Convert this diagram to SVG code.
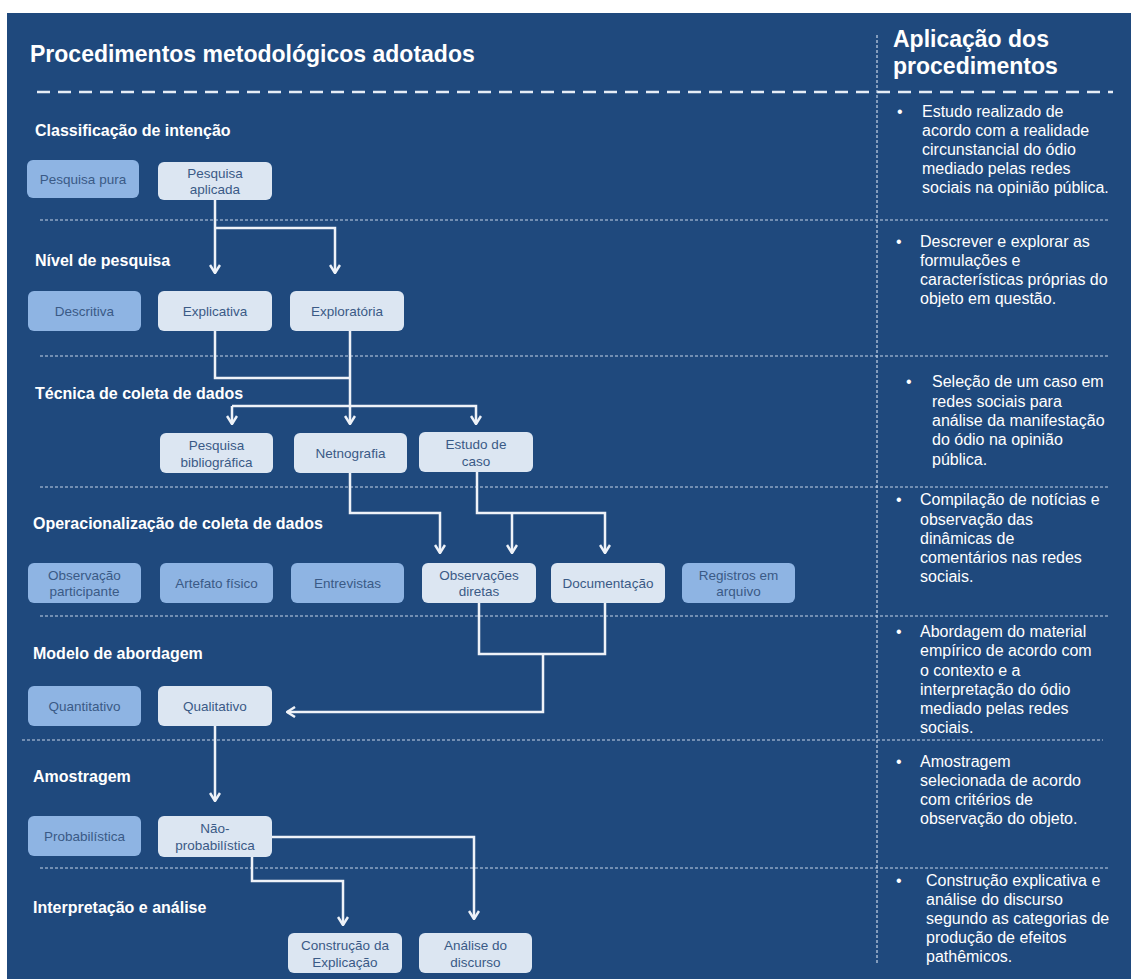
<svg xmlns="http://www.w3.org/2000/svg" width="1131" height="979" viewBox="0 0 1131 979">
<defs>
<style>
.bg{fill:#1F497D}
.title{font-family:"Liberation Sans",Arial,sans-serif;font-weight:bold;font-size:23px;fill:#FFFFFF}
.head{font-family:"Liberation Sans",Arial,sans-serif;font-weight:bold;font-size:16px;fill:#FFFFFF}
.body{font-family:"Liberation Sans",Arial,sans-serif;font-size:16px;fill:#FFFFFF}
.lt{fill:#DCE6F2}
.md{fill:#8EB4E3}
.bt{font-family:"Liberation Sans",Arial,sans-serif;font-size:13.5px;fill:#3A5A86;text-anchor:middle}
.thick{stroke:#E6EDF6;stroke-width:2.5;stroke-dasharray:13 8;fill:none}
.dot{stroke:#C6D4E8;stroke-width:1.2;stroke-dasharray:3 2;fill:none}
.con{stroke:#EEF2F8;stroke-width:2.5;fill:none}
.arr{marker-end:url(#ah)}
</style>
<marker id="ah" viewBox="0 0 10 12" refX="9" refY="6" markerWidth="10" markerHeight="12" markerUnits="userSpaceOnUse" orient="auto">
<path d="M1,1 L9,6 L1,11" fill="none" stroke="#EEF2F8" stroke-width="2.5"/>
</marker>
</defs>
<rect x="0" y="0" width="1131" height="979" fill="#FFFFFF"/>
<rect class="bg" x="7" y="13" width="1124" height="966"/>

<g id="headers">
<text class="title" x="30" y="62">Procedimentos metodológicos adotados</text>
<text class="title" x="893" y="47">Aplicação dos</text>
<text class="title" x="893" y="74">procedimentos</text>
</g>

<g id="separators">
<line class="thick" x1="37" y1="92" x2="1113" y2="92"/>
<line class="dot" x1="877" y1="35" x2="877" y2="965"/>
<line class="dot" x1="40" y1="220" x2="1110" y2="220"/>
<line class="dot" x1="40" y1="356" x2="1110" y2="356"/>
<line class="dot" x1="40" y1="487" x2="1110" y2="487"/>
<line class="dot" x1="40" y1="616" x2="1110" y2="616"/>
<line class="dot" x1="22" y1="740" x2="1103" y2="740"/>
<line class="dot" x1="40" y1="868" x2="1110" y2="868"/>
</g>

<g id="section-titles">
<text class="head" x="35" y="136">Classificação de intenção</text>
<text class="head" x="35" y="266">Nível de pesquisa</text>
<text class="head" x="35" y="399">Técnica de coleta de dados</text>
<text class="head" x="33" y="529">Operacionalização de coleta de dados</text>
<text class="head" x="33" y="659">Modelo de abordagem</text>
<text class="head" x="33" y="782">Amostragem</text>
<text class="head" x="33" y="913">Interpretação e análise</text>
</g>

<g id="connectors">
<path class="con arr" d="M215,200 V273"/>
<path class="con arr" d="M215,228 H335 V273"/>
<path class="con" d="M215,331 V378 H350"/>
<path class="con arr" d="M350,331 V424"/>
<path class="con arr" d="M232,406 V424"/>
<path class="con arr" d="M232,406 H476 V424"/>
<path class="con arr" d="M350,473 V513 H440 V553"/>
<path class="con arr" d="M477,472 V513 H605 V553"/>
<path class="con arr" d="M512,513 V553"/>
<path class="con" d="M479,603 V654 H605 V603"/>
<path class="con arr" d="M543,654 V712 H287"/>
<path class="con arr" d="M215,726 V801"/>
<path class="con arr" d="M272,837 H474 V919"/>
<path class="con arr" d="M252,857 V881 H343 V925"/>
</g>

<g id="n-pesquisa-pura"><rect class="md" x="27" y="160" width="112" height="38" rx="6"/><text class="bt" x="83" y="184">Pesquisa pura</text></g>
<g id="n-pesquisa-aplicada"><rect class="lt" x="158" y="162" width="114" height="38" rx="6"/><text class="bt" x="215" y="178">Pesquisa</text><text class="bt" x="215" y="194">aplicada</text></g>

<g id="n-descritiva"><rect class="md" x="28" y="291" width="113" height="40" rx="6"/><text class="bt" x="84.5" y="316">Descritiva</text></g>
<g id="n-explicativa"><rect class="lt" x="158" y="291" width="114" height="40" rx="6"/><text class="bt" x="215" y="316">Explicativa</text></g>
<g id="n-exploratoria"><rect class="lt" x="290" y="291" width="114" height="40" rx="6"/><text class="bt" x="347" y="316">Exploratória</text></g>

<g id="n-pesquisa-bibliografica"><rect class="lt" x="160" y="433" width="113" height="40" rx="6"/><text class="bt" x="216.5" y="450">Pesquisa</text><text class="bt" x="216.5" y="467">bibliográfica</text></g>
<g id="n-netnografia"><rect class="lt" x="294" y="433" width="113" height="40" rx="6"/><text class="bt" x="350.5" y="458">Netnografia</text></g>
<g id="n-estudo-caso"><rect class="lt" x="419" y="432" width="114" height="40" rx="6"/><text class="bt" x="476" y="449">Estudo de</text><text class="bt" x="476" y="466">caso</text></g>

<g id="n-observacao-participante"><rect class="md" x="28" y="563" width="113" height="40" rx="6"/><text class="bt" x="84.5" y="580">Observação</text><text class="bt" x="84.5" y="596">participante</text></g>
<g id="n-artefato"><rect class="md" x="160" y="563" width="113" height="40" rx="6"/><text class="bt" x="216.5" y="588">Artefato físico</text></g>
<g id="n-entrevistas"><rect class="md" x="291" y="563" width="113" height="40" rx="6"/><text class="bt" x="347.5" y="588">Entrevistas</text></g>
<g id="n-observacoes-diretas"><rect class="lt" x="422" y="563" width="114" height="40" rx="6"/><text class="bt" x="479" y="580">Observações</text><text class="bt" x="479" y="596">diretas</text></g>
<g id="n-documentacao"><rect class="lt" x="551" y="563" width="114" height="40" rx="6"/><text class="bt" x="608" y="588">Documentação</text></g>
<g id="n-registros"><rect class="md" x="682" y="563" width="113" height="40" rx="6"/><text class="bt" x="738.5" y="580">Registros em</text><text class="bt" x="738.5" y="596">arquivo</text></g>

<g id="n-quantitativo"><rect class="md" x="28" y="686" width="113" height="40" rx="6"/><text class="bt" x="84.5" y="711">Quantitativo</text></g>
<g id="n-qualitativo"><rect class="lt" x="158" y="686" width="114" height="40" rx="6"/><text class="bt" x="215" y="711">Qualitativo</text></g>

<g id="n-probabilistica"><rect class="md" x="28" y="816" width="113" height="40" rx="6"/><text class="bt" x="84.5" y="841">Probabilística</text></g>
<g id="n-nao-probabilistica"><rect class="lt" x="158" y="816" width="114" height="41" rx="6"/><text class="bt" x="215" y="833">Não-</text><text class="bt" x="215" y="850">probabilística</text></g>

<g id="n-construcao"><rect class="lt" x="288" y="933" width="114" height="40" rx="6"/><text class="bt" x="345" y="950">Construção da</text><text class="bt" x="345" y="967">Explicação</text></g>
<g id="n-analise"><rect class="lt" x="419" y="933" width="113" height="40" rx="6"/><text class="bt" x="475.5" y="950">Análise do</text><text class="bt" x="475.5" y="967">discurso</text></g>

<g id="applications">
<g id="a1"><text class="body" x="897" y="117">•</text>
<text class="body"><tspan x="922" y="117">Estudo realizado de</tspan><tspan x="922" y="136">acordo com a realidade</tspan><tspan x="922" y="155">circunstancial do ódio</tspan><tspan x="922" y="174">mediado pelas redes</tspan><tspan x="922" y="193">sociais na opinião pública.</tspan></text></g>
<g id="a2"><text class="body" x="896" y="247">•</text>
<text class="body"><tspan x="920" y="247">Descrever e explorar as</tspan><tspan x="920" y="266">formulações e</tspan><tspan x="920" y="285">características próprias do</tspan><tspan x="920" y="304">objeto em questão.</tspan></text></g>
<g id="a3"><text class="body" x="906" y="387">•</text>
<text class="body"><tspan x="932" y="387">Seleção de um caso em</tspan><tspan x="932" y="407">redes sociais para</tspan><tspan x="932" y="426">análise da manifestação</tspan><tspan x="932" y="445">do ódio na opinião</tspan><tspan x="932" y="465">pública.</tspan></text></g>
<g id="a4"><text class="body" x="896" y="505">•</text>
<text class="body"><tspan x="920" y="505">Compilação de notícias e</tspan><tspan x="920" y="525">observação das</tspan><tspan x="920" y="544">dinâmicas de</tspan><tspan x="920" y="563">comentários nas redes</tspan><tspan x="920" y="582">sociais.</tspan></text></g>
<g id="a5"><text class="body" x="896" y="637">•</text>
<text class="body"><tspan x="920" y="637">Abordagem do material</tspan><tspan x="920" y="656">empírico de acordo com</tspan><tspan x="920" y="676">o contexto e a</tspan><tspan x="920" y="695">interpretação do ódio</tspan><tspan x="920" y="714">mediado pelas redes</tspan><tspan x="920" y="733">sociais.</tspan></text></g>
<g id="a6"><text class="body" x="896" y="767">•</text>
<text class="body"><tspan x="920" y="767">Amostragem</tspan><tspan x="920" y="786">selecionada de acordo</tspan><tspan x="920" y="805">com critérios de</tspan><tspan x="920" y="824">observação do objeto.</tspan></text></g>
<g id="a7"><text class="body" x="896" y="886">•</text>
<text class="body"><tspan x="926" y="886">Construção explicativa e</tspan><tspan x="926" y="905">análise do discurso</tspan><tspan x="926" y="924">segundo as categorias de</tspan><tspan x="926" y="943">produção de efeitos</tspan><tspan x="926" y="962">pathêmicos.</tspan></text></g>
</g>
</svg>
